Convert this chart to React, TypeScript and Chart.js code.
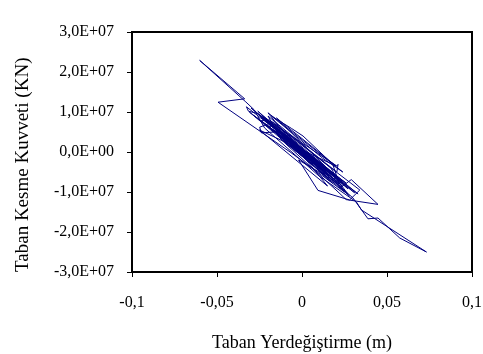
import React, { useEffect, useRef } from "react";
import { Chart, registerables } from "chart.js";

Chart.register(...registerables);

// Displacement (m)
const dispX: number[] = [
  0.0, -0.003, 0.005, -0.006, 0.008, -0.009, 0.011, -0.012, 0.01, -0.014,
  0.015, -0.013, 0.017, -0.018, 0.016, -0.02, 0.019, -0.022, 0.021, -0.017,
  0.023, -0.024, 0.02, -0.021, 0.024, -0.025, 0.022, -0.0327, -0.0315, -0.026,
  0.0205, 0.0212, 0.0205, -0.017, -0.0249, -0.0239, -0.016, 0.023, 0.029, 0.0447,
  0.026, 0.02, -0.012, -0.02, 0.017, 0.025, -0.007, -0.0494, -0.0337, -0.0602,
  -0.033, -0.028, -0.022, 0.01, 0.032, 0.035, 0.0732, 0.0575, 0.0447, 0.0388,
  0.03, -0.03, 0.026, -0.028, 0.031, -0.026, 0.028, -0.031, 0.033, -0.022,
  0.027, -0.015, 0.02, -0.025, 0.015, -0.02, 0.024,
  0.012, -0.018, -0.0062, 0.0006, 0.018, 0.022, -0.002, 0.0094, 0.028,
  0.034, 0.014, -0.019, -0.024, 0.019, 0.027, -0.01, -0.023, 0.016, 0.021,
  -0.014, -0.02, 0.01, 0.018, -0.008, -0.017, 0.012, 0.015, -0.011, -0.013,
  0.009, 0.011, -0.007, -0.009, 0.006, 0.007, -0.004, 0.003, -0.001,
];

// Base shear (KN)
const shearY: number[] = [
  0.0e7, 0.12e7, -0.2e7, 0.17e7, -0.3e7, 0.36e7, -0.32e7, 0.45e7, -0.4e7, 0.42e7,
  -0.55e7, 0.5e7, -0.52e7, 0.66e7, -0.6e7, 0.72e7, -0.58e7, 0.8e7, -0.75e7, 0.62e7,
  -0.72e7, 0.86e7, -0.64e7, 0.66e7, -0.86e7, 0.92e7, -0.68e7, 1.13e7, 1.02e7, 0.96e7,
  -0.35e7, -0.31e7, -0.5e7, 0.75e7, 0.62e7, 0.48e7, 0.5e7, -0.88e7, -0.69e7, -1.31e7,
  -1.19e7, -0.95e7, 0.3e7, 0.9e7, -0.4e7, -1.0e7, 0.0e7, 1.245e7, 1.33e7, 2.29e7,
  1.25e7, 1.05e7, 0.6e7, -0.6e7, -1.25e7, -1.45e7, -2.5e7, -2.15e7, -1.65e7, -1.67e7,
  -1.15e7, 1.1e7, -0.78e7, 0.9e7, -1.02e7, 1.02e7, -1.1e7, 1.0e7, -1.05e7, 0.85e7,
  -0.92e7, 0.85e7, -0.35e7, 0.55e7, -0.85e7, 0.98e7, -0.5e7,
  -0.15e7, 0.9e7, 0.59e7, 0.4e7, -0.3e7, -0.8e7, -0.2e7, -0.96e7, -1.2e7,
  -0.95e7, -0.3e7, 0.8e7, 0.78e7, -0.6e7, -1.05e7, 0.5e7, 0.88e7, -0.72e7, -0.62e7,
  0.62e7, 0.65e7, -0.45e7, -0.78e7, 0.4e7, 0.55e7, -0.55e7, -0.5e7, 0.45e7, 0.35e7,
  -0.42e7, -0.3e7, 0.32e7, 0.2e7, -0.3e7, -0.18e7, 0.2e7, -0.1e7, 0.05e7,
];

const xTickValues = [-0.1, -0.05, 0, 0.05, 0.1];
const xTickLabels = ["-0,1", "-0,05", "0", "0,05", "0,1"];
const yTickValues = [-3e7, -2e7, -1e7, 0, 1e7, 2e7, 3e7];
const yTickLabels = ["-3,0E+07", "-2,0E+07", "-1,0E+07", "0,0E+00", "1,0E+07", "2,0E+07", "3,0E+07"];

const xTitle = "Taban Yerdeğiştirme (m)";
const yTitle = "Taban Kesme Kuvveti (KN)";

const FONT = "'Liberation Serif', 'Times New Roman', serif";

const frame = {
  id: "frame",
  afterDatasetsDraw(chart: any) {
    const { ctx, chartArea } = chart;
    ctx.save();
    ctx.strokeStyle = "#000";
    ctx.lineWidth = 2;
    ctx.strokeRect(chartArea.left, chartArea.top, chartArea.right - chartArea.left, chartArea.bottom - chartArea.top);
    ctx.restore();
  },
};

export default function App() {
  const ref = useRef<HTMLCanvasElement>(null);
  useEffect(() => {
    if (!ref.current) return;
    const points = dispX.map((x, i) => ({ x, y: shearY[i] }));
    const chart = new Chart(ref.current, {
      type: "scatter",
      data: {
        datasets: [
          {
            data: points,
            showLine: true,
            borderColor: "#000080",
            backgroundColor: "#000080",
            borderWidth: 1,
            pointRadius: 0,
            tension: 0,
          },
        ],
      },
      options: {
        animation: false,
        responsive: false,
        layout: { padding: { top: 32, right: 11, left: 0, bottom: 0 } },
        plugins: { legend: { display: false }, tooltip: { enabled: false } },
        scales: {
          x: {
            type: "linear",
            min: -0.1,
            max: 0.1,
            afterFit: (s: any) => {
              s.height = 82;
              s.paddingLeft = 0;
              s.paddingRight = 0;
            },
            afterBuildTicks: (s: any) => {
              s.ticks = xTickValues.map((value) => ({ value }));
            },
            ticks: {
              color: "#000",
              font: { family: FONT, size: 16 },
              padding: 16,
              maxRotation: 0,
              callback: (_v: any, i: number) => xTickLabels[i],
            },
            grid: { drawOnChartArea: false, drawTicks: true, tickLength: 5, color: "#000", lineWidth: 1 },
            border: { display: true, color: "#000", width: 2 },
            title: {
              display: true,
              text: xTitle,
              color: "#000",
              font: { family: FONT, size: 18 },
              padding: { top: 0, bottom: 0 },
            },
          },
          y: {
            type: "linear",
            min: -3e7,
            max: 3e7,
            afterFit: (s: any) => {
              s.width = 132;
              s.paddingTop = 0;
              s.paddingBottom = 0;
            },
            afterBuildTicks: (s: any) => {
              s.ticks = yTickValues.map((value) => ({ value }));
            },
            ticks: {
              color: "#000",
              font: { family: FONT, size: 16 },
              padding: 13,
              callback: (_v: any, i: number) => yTickLabels[i],
            },
            grid: { drawOnChartArea: false, drawTicks: true, tickLength: 5, color: "#000", lineWidth: 1 },
            border: { display: true, color: "#000", width: 2 },
            title: {
              display: true,
              text: yTitle,
              align: "start",
              color: "#000",
              font: { family: FONT, size: 19 },
              padding: { top: 12, bottom: 0 },
            },
          },
        },
      },
      plugins: [frame],
    });
    return () => chart.destroy();
  }, []);
  return (
    <div style={{ position: "absolute", left: 0, top: 0, width: 483, height: 354, background: "#fff" }}>
      <canvas ref={ref} width={483} height={354} />
    </div>
  );
}
